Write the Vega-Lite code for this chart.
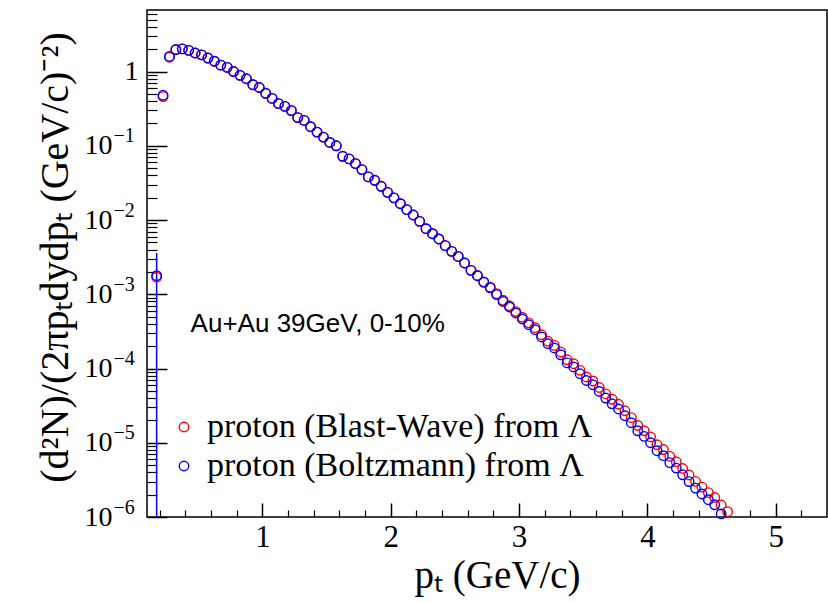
{
  "$schema": "https://vega.github.io/schema/vega-lite/v6.json",
  "width": 680,
  "height": 507,
  "autosize": {"type": "none"},
  "padding": {"left": 147, "top": 10, "right": 1, "bottom": 86},
  "background": "white",
  "config": {
    "view": {"stroke": "black", "strokeWidth": 1.5},
    "axis": {"grid": false, "domain": false, "tickColor": "black", "labelColor": "black", "titleColor": "black", "labelFont": "Liberation Serif", "titleFont": "Liberation Serif", "titleFontWeight": "normal"}
  },
  "datasets": {
    "err": [{"pt": 0.175, "hi": 0.0036, "lo": 0.000001}],
    "pts": [
      {"pt": 0.175, "bw": 0.0017, "bz": 0.00178},
      {"pt": 0.225, "bw": 0.46, "bz": 0.48},
      {"pt": 0.275, "bw": 1.56, "bz": 1.6},
      {"pt": 0.325, "bw": 1.97, "bz": 1.98},
      {"pt": 0.375, "bw": 2.02, "bz": 2.02},
      {"pt": 0.425, "bw": 1.93, "bz": 1.93},
      {"pt": 0.475, "bw": 1.78, "bz": 1.78},
      {"pt": 0.525, "bw": 1.68, "bz": 1.68},
      {"pt": 0.575, "bw": 1.52, "bz": 1.52},
      {"pt": 0.625, "bw": 1.38, "bz": 1.38},
      {"pt": 0.675, "bw": 1.22, "bz": 1.22},
      {"pt": 0.725, "bw": 1.14, "bz": 1.14},
      {"pt": 0.775, "bw": 1.0, "bz": 1.0},
      {"pt": 0.825, "bw": 0.89, "bz": 0.89},
      {"pt": 0.875, "bw": 0.8, "bz": 0.8},
      {"pt": 0.925, "bw": 0.665, "bz": 0.665},
      {"pt": 0.975, "bw": 0.61, "bz": 0.61},
      {"pt": 1.025, "bw": 0.51, "bz": 0.51},
      {"pt": 1.075, "bw": 0.435, "bz": 0.435},
      {"pt": 1.125, "bw": 0.37, "bz": 0.37},
      {"pt": 1.175, "bw": 0.34, "bz": 0.34},
      {"pt": 1.225, "bw": 0.298, "bz": 0.298},
      {"pt": 1.275, "bw": 0.24, "bz": 0.24},
      {"pt": 1.325, "bw": 0.22, "bz": 0.22},
      {"pt": 1.375, "bw": 0.181, "bz": 0.181},
      {"pt": 1.425, "bw": 0.153, "bz": 0.153},
      {"pt": 1.475, "bw": 0.131, "bz": 0.131},
      {"pt": 1.525, "bw": 0.111, "bz": 0.111},
      {"pt": 1.575, "bw": 0.1, "bz": 0.1},
      {"pt": 1.625, "bw": 0.0722, "bz": 0.0722},
      {"pt": 1.675, "bw": 0.0666, "bz": 0.0666},
      {"pt": 1.725, "bw": 0.0576, "bz": 0.0576},
      {"pt": 1.775, "bw": 0.0478, "bz": 0.0478},
      {"pt": 1.825, "bw": 0.0381, "bz": 0.0381},
      {"pt": 1.875, "bw": 0.0343, "bz": 0.0343},
      {"pt": 1.925, "bw": 0.0285, "bz": 0.0285},
      {"pt": 1.975, "bw": 0.0236, "bz": 0.0236},
      {"pt": 2.025, "bw": 0.0199, "bz": 0.0199},
      {"pt": 2.075, "bw": 0.0166, "bz": 0.0166},
      {"pt": 2.125, "bw": 0.0138, "bz": 0.0138},
      {"pt": 2.175, "bw": 0.0117, "bz": 0.0117},
      {"pt": 2.225, "bw": 0.0096, "bz": 0.0096},
      {"pt": 2.275, "bw": 0.00765, "bz": 0.00765},
      {"pt": 2.325, "bw": 0.00655, "bz": 0.00655},
      {"pt": 2.375, "bw": 0.00556, "bz": 0.00556},
      {"pt": 2.425, "bw": 0.00452, "bz": 0.00452},
      {"pt": 2.475, "bw": 0.00379, "bz": 0.00379},
      {"pt": 2.525, "bw": 0.00324, "bz": 0.00324},
      {"pt": 2.575, "bw": 0.00264, "bz": 0.00264},
      {"pt": 2.625, "bw": 0.0021, "bz": 0.0021},
      {"pt": 2.675, "bw": 0.00179, "bz": 0.00178},
      {"pt": 2.725, "bw": 0.00147, "bz": 0.00145},
      {"pt": 2.775, "bw": 0.00125, "bz": 0.00122},
      {"pt": 2.825, "bw": 0.00102, "bz": 0.00099},
      {"pt": 2.875, "bw": 0.00083, "bz": 0.0008},
      {"pt": 2.925, "bw": 0.0007, "bz": 0.000675},
      {"pt": 2.975, "bw": 0.000585, "bz": 0.00056},
      {"pt": 3.025, "bw": 0.00049, "bz": 0.000465},
      {"pt": 3.075, "bw": 0.000412, "bz": 0.000389},
      {"pt": 3.125, "bw": 0.000355, "bz": 0.000333},
      {"pt": 3.175, "bw": 0.000285, "bz": 0.000266},
      {"pt": 3.225, "bw": 0.000233, "bz": 0.000216},
      {"pt": 3.275, "bw": 0.000205, "bz": 0.000189},
      {"pt": 3.325, "bw": 0.000167, "bz": 0.000153},
      {"pt": 3.375, "bw": 0.000131, "bz": 0.000119},
      {"pt": 3.425, "bw": 0.000116, "bz": 0.000105},
      {"pt": 3.475, "bw": 0.0000945, "bz": 0.000085},
      {"pt": 3.525, "bw": 0.000077, "bz": 0.000069},
      {"pt": 3.575, "bw": 0.000068, "bz": 0.0000605},
      {"pt": 3.625, "bw": 0.0000555, "bz": 0.0000491},
      {"pt": 3.675, "bw": 0.0000455, "bz": 0.00004},
      {"pt": 3.725, "bw": 0.0000385, "bz": 0.0000335},
      {"pt": 3.775, "bw": 0.000033, "bz": 0.0000285},
      {"pt": 3.825, "bw": 0.000027, "bz": 0.0000231},
      {"pt": 3.875, "bw": 0.0000218, "bz": 0.0000186},
      {"pt": 3.925, "bw": 0.0000171, "bz": 0.0000145},
      {"pt": 3.975, "bw": 0.0000145, "bz": 0.0000122},
      {"pt": 4.025, "bw": 0.000012, "bz": 0.00001},
      {"pt": 4.075, "bw": 0.0000094, "bz": 0.0000078},
      {"pt": 4.125, "bw": 0.0000081, "bz": 0.0000067},
      {"pt": 4.175, "bw": 0.00000655, "bz": 0.0000054},
      {"pt": 4.225, "bw": 0.00000555, "bz": 0.00000456},
      {"pt": 4.275, "bw": 0.0000045, "bz": 0.0000037},
      {"pt": 4.325, "bw": 0.00000368, "bz": 0.000003},
      {"pt": 4.375, "bw": 0.00000302, "bz": 0.00000245},
      {"pt": 4.425, "bw": 0.00000253, "bz": 0.00000204},
      {"pt": 4.475, "bw": 0.00000213, "bz": 0.00000171},
      {"pt": 4.525, "bw": 0.00000183, "bz": 0.00000146},
      {"pt": 4.575, "bw": 0.00000145, "bz": 0.0000011},
      {"pt": 4.625, "bw": 0.00000118, "bz": null}
    ]
  },
  "layer": [
    {
      "data": {"name": "err"},
      "mark": {"type": "rule", "color": "#0000ff", "strokeWidth": 1.5},
      "encoding": {
        "x": {"field": "pt", "type": "quantitative", "scale": {"domain": [0.1, 5.4], "nice": false, "zero": false},
          "axis": {"orient": "bottom", "values": [0.2, 0.4, 0.6, 0.8, 1.2, 1.4, 1.6, 1.8, 2.2, 2.4, 2.6, 2.8, 3.2, 3.4, 3.6, 3.8, 4.2, 4.4, 4.6, 4.8, 5.2], "labels": false, "tickSize": -7, "tickWidth": 1.2, "title": null}},
        "y": {"field": "hi", "type": "quantitative", "scale": {"type": "log", "domain": [0.000001, 6.75], "nice": false},
          "axis": {"orient": "left", "values": [0.000002, 0.000003, 0.000004, 0.000005, 0.000006, 0.000007, 0.000008, 0.000009, 0.00002, 0.00003, 0.00004, 0.00005, 0.00006, 0.00007, 0.00008, 0.00009, 0.0002, 0.0003, 0.0004, 0.0005, 0.0006, 0.0007, 0.0008, 0.0009, 0.002, 0.003, 0.004, 0.005, 0.006, 0.007, 0.008, 0.009, 0.02, 0.03, 0.04, 0.05, 0.06, 0.07, 0.08, 0.09, 0.2, 0.3, 0.4, 0.5, 0.6, 0.7, 0.8, 0.9, 2, 3, 4, 5, 6], "labels": false, "tickSize": -10, "tickWidth": 1.2, "title": null}},
        "y2": {"field": "lo"}
      }
    },
    {
      "data": {"name": "pts"},
      "transform": [{"fold": ["bw", "bz"], "as": ["s", "v"]}, {"filter": "isValid(datum.v)"}],
      "mark": {"type": "point", "shape": "circle", "filled": false, "size": 90, "strokeWidth": 1.4, "opacity": 1},
      "encoding": {
        "x": {"field": "pt", "type": "quantitative",
          "axis": {"orient": "bottom", "values": [1, 2, 3, 4, 5], "format": "d", "tickSize": -14, "tickWidth": 1.5, "labelFontSize": 31, "labelPadding": 19, "title": "pₜ (GeV/c)", "titleFontSize": 39, "titleX": 350, "titleY": 70, "titleBaseline": "alphabetic", "titleAlign": "center"}},
        "y": {"field": "v", "type": "quantitative",
          "axis": {"orient": "left", "values": [0.000001, 0.00001, 0.0001, 0.001, 0.01, 0.1, 1], "tickSize": -20, "tickWidth": 1.5, "labelFontSize": 28, "labelAlign": "right", "labelBaseline": "middle",
            "labelPadding": {"condition": {"test": "datum.value >= 0.99", "value": 29}, "value": 55},
            "labelExpr": "datum.value >= 0.99 ? '1' : '10'",
            "title": "(d²N)/(2πpₜdydpₜ (GeV/c)⁻²)", "titleFontSize": 40, "titleAngle": 270, "titleX": -80, "titleY": 247, "titleBaseline": "alphabetic", "titleAlign": "center"}},
        "color": {"field": "s", "type": "nominal", "scale": {"domain": ["bw", "bz"], "range": ["#ff0000", "#0000ff"]},
          "legend": {"orient": "none", "legendX": 20, "legendY": 400, "title": null, "padding": 0, "labelFont": "Liberation Serif", "labelFontSize": 34, "labelColor": "black", "labelOffset": 6, "labelLimit": 700, "rowPadding": 5, "symbolType": "circle", "symbolSize": 90, "symbolStrokeWidth": 1.4,
            "labelExpr": "datum.value == 'bw' ? 'proton (Blast-Wave) from Λ' : 'proton (Boltzmann) from Λ'"}},
        "order": {"field": "s", "type": "nominal", "sort": "ascending"}
      }
    },
    {
      "data": {"values": [{}]},
      "mark": {"type": "text", "text": "Au+Au 39GeV, 0-10%", "font": "Liberation Sans", "fontSize": 26, "align": "left", "baseline": "alphabetic", "color": "black"},
      "encoding": {
        "x": {"datum": 0.44, "type": "quantitative", "axis": null},
        "y": {"datum": 0.000313, "type": "quantitative",
          "axis": {"orient": "left", "values": [0.000001, 0.00001, 0.0001, 0.001, 0.01, 0.1], "ticks": false, "labelFontSize": 20, "labelAlign": "left", "labelBaseline": "middle", "labelPadding": 34, "labelOffset": -10,
            "labelExpr": "'−' + round(-log(datum.value)/LN10)", "title": null}}
      }
    }
  ],
  "resolve": {"axis": {"x": "independent", "y": "independent"}}
}
